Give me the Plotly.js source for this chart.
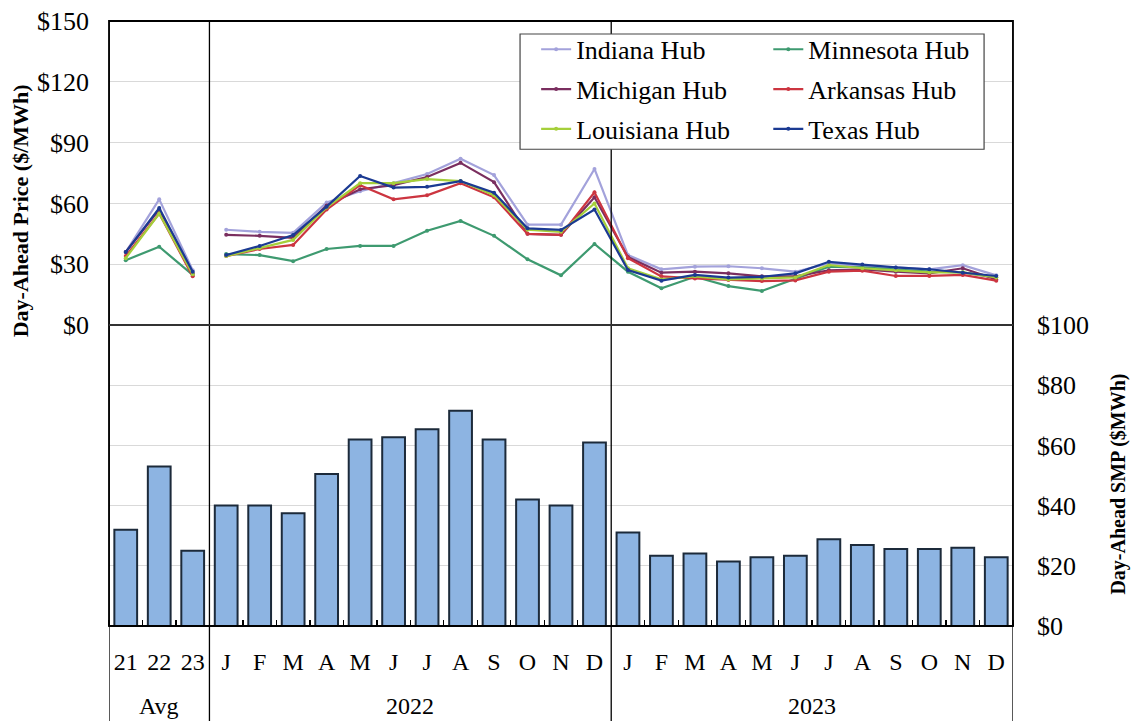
<!DOCTYPE html>
<html>
<head>
<meta charset="utf-8">
<script src="https://cdn.plot.ly/plotly-3.0.1.min.js"></script>
<style>html,body{margin:0;padding:0;background:#fff;}#chart{width:1133px;height:721px;}</style>
</head>
<body>
<div id="chart"></div>
<script>
// ---- data ----
const monthLabels = ['21','22','23','J','F','M','A','M','J','J','A','S','O','N','D','J','F','M','A','M','J','J','A','S','O','N','D'];
const groupLabels = ['Avg','2022','2023'];
const groupSizes = [3, 12, 12];

const smp = [32, 53, 25, 40, 40, 37.5, 50.5, 62, 62.7, 65.4, 71.5, 62, 42, 40, 61,
             31.1, 23.3, 24.1, 21.4, 22.8, 23.3, 28.8, 26.9, 25.6, 25.6, 26, 22.8];

const indiana   = [36, 62, 27,   47, 46, 45.5, 60.5, 66, 70, 74.5, 82, 74, 49.5, 49.5, 77,
                   34.5, 27.5, 28.8, 29, 28, 26.3, 30.4, 29, 28.4, 27.5, 29.5, 24.5];
const minnesota = [32, 38.6, 24.7, 35, 34.5, 31.5, 37.5, 39, 39, 46.5, 51.3, 44, 32.4, 24.5, 40,
                   26.3, 18.1, 23.8, 19.2, 16.8, 23, 28.8, 28.5, 27.5, 26.3, 26, 23.4];
const michigan  = [36, 57, 25.5, 44.5, 44, 43, 59, 67, 69, 73, 80, 70.5, 45, 44.5, 63,
                   33.5, 25.8, 26.3, 25.5, 24, 24, 27, 27.5, 26.3, 25.5, 28, 22.5];
const arkansas  = [34, 55, 24,   34, 37.5, 39.5, 57, 69, 62, 64, 70, 63, 45, 44.5, 65.5,
                   33, 24, 23, 22.2, 21.7, 22, 26.3, 26.8, 24.2, 24.2, 24.7, 21.9];
const louisiana = [33, 55, 25,   34, 38, 42, 58, 70, 70, 72, 71, 64, 47, 46, 60,
                   28, 22.5, 24, 22.5, 23, 23.5, 29.6, 28, 27, 26, 26, 23.5];
const texas     = [36, 57.7, 26.3, 34.5, 39, 44.4, 58.4, 73.5, 67.8, 68.2, 71, 65.3, 47.7, 46.9, 57,
                   27.1, 21.9, 24.7, 23.4, 23.8, 25.5, 31.2, 29.9, 28.4, 27.5, 25.8, 24.2];

const hubNames = ['Indiana Hub','Minnesota Hub','Michigan Hub','Arkansas Hub','Louisiana Hub','Texas Hub'];
const hubSeries = [indiana, minnesota, michigan, arkansas, louisiana, texas];

const leftTitle = 'Day-Ahead Price ($/MWh)';
const rightTitle = 'Day-Ahead SMP ($MWh)';

// ---- styles ----
const hubColors = ['#A3A2DB','#3E9A70','#7A2E5F','#CC3540','#A5CF3A','#1B3A92'];
const hubLegend = ['legend','legend2','legend','legend2','legend','legend2'];
const FONT = '"Liberation Serif", "Times New Roman", serif';

const idx = monthLabels.map((_, i) => i);
const nAvg = groupSizes[0];

const traces = [];
traces.push({
  type: 'bar', x: idx, y: smp, xaxis: 'x', yaxis: 'y2', width: 0.68,
  marker: {color: '#8DB4E2', line: {color: '#1C2A3A', width: 2}},
  showlegend: false, hoverinfo: 'y'
});
hubSeries.forEach((s, k) => {
  const common = {
    type: 'scatter', mode: 'lines+markers', xaxis: 'x', yaxis: 'y',
    line: {color: hubColors[k], width: 2.2}, marker: {color: hubColors[k], size: 4},
    legendgroup: hubNames[k], legend: hubLegend[k], name: hubNames[k]
  };
  traces.push(Object.assign({}, common, {x: idx.slice(0, nAvg), y: s.slice(0, nAvg), showlegend: false}));
  traces.push(Object.assign({}, common, {x: idx.slice(nAvg), y: s.slice(nAvg), showlegend: true}));
});

// group boundaries/centers
const bounds = [-0.5];
groupSizes.forEach(g => bounds.push(bounds[bounds.length - 1] + g));
const centers = groupSizes.map((g, i) => (bounds[i] + bounds[i + 1]) / 2);

const SPLIT = 0.4975;
const BOTTOM = -0.157;

const shapes = [];
bounds.forEach(b => shapes.push({type: 'line', xref: 'x', yref: 'paper', x0: b, x1: b, y0: BOTTOM, y1: 1,
  line: {color: '#000', width: 1.3}, layer: 'above'}));
shapes.push({type: 'rect', xref: 'paper', yref: 'paper', x0: 0, x1: 1, y0: 0, y1: 1,
  line: {color: '#000', width: 1.8}, layer: 'above'});
shapes.push({type: 'line', xref: 'paper', yref: 'paper', x0: 0, x1: 1, y0: SPLIT, y1: SPLIT,
  line: {color: '#333', width: 1.8}, layer: 'above'});
shapes.push({type: 'rect', xref: 'paper', yref: 'paper', x0: 0.4547, x1: 0.968, y0: 0.788, y1: 0.9785,
  fillcolor: '#fff', line: {color: '#444', width: 1.2}, layer: 'above'});

const annotations = groupLabels.map((g, i) => ({
  text: g, xref: 'x', yref: 'paper', x: centers[i], y: -0.132, showarrow: false,
  yanchor: 'middle', font: {family: FONT, size: 24, color: '#000'}
}));
annotations.push({
  text: leftTitle, xref: 'paper', yref: 'paper', x: -0.0985, y: 0.687, textangle: -90,
  xanchor: 'center', yanchor: 'middle', showarrow: false,
  font: {family: FONT, size: 22, weight: 'bold', color: '#000'}
});
annotations.push({
  text: rightTitle, xref: 'paper', yref: 'paper', x: 1.117, y: 0.235, textangle: -90,
  xanchor: 'center', yanchor: 'middle', showarrow: false,
  font: {family: FONT, size: 20, weight: 'bold', color: '#000'}
});

const legendCommon = {
  xanchor: 'left', yanchor: 'top', y: 0.992, bgcolor: 'rgba(0,0,0,0)', borderwidth: 0,
  font: {family: FONT, size: 26, color: '#000'}, traceorder: 'grouped', tracegroupgap: 3,
  orientation: 'v'
};

const layout = {
  width: 1133, height: 721,
  margin: {l: 109, r: 120, t: 21, b: 95, pad: 0},
  paper_bgcolor: '#fff', plot_bgcolor: '#fff',
  font: {family: FONT, color: '#000'},
  showlegend: true,
  legend: Object.assign({}, legendCommon, {x: 0.4725}),
  legend2: Object.assign({}, legendCommon, {x: 0.7293}),
  xaxis: {
    range: [-0.5, 26.5], anchor: 'y2', tickmode: 'array', tickvals: idx, ticktext: monthLabels,
    ticks: '', showgrid: false, zeroline: false, showline: false,
    tickfont: {family: FONT, size: 24, color: '#000'}, ticklabelstandoff: 19,
    minor: {tick0: 0.5, dtick: 1, ticks: 'inside', ticklen: 6, tickcolor: '#000', tickwidth: 1.3, showgrid: false}
  },
  yaxis: {
    domain: [SPLIT, 1], range: [0, 150], tick0: 0, dtick: 30, tickprefix: '$', anchor: 'x',
    showgrid: true, gridcolor: '#d9d9d9', gridwidth: 1, zeroline: false, showline: false, ticks: '',
    tickfont: {family: FONT, size: 26, color: '#000'}, ticklabelstandoff: 19
  },
  yaxis2: {
    domain: [0, SPLIT], range: [0, 100], tick0: 0, dtick: 20, tickprefix: '$', anchor: 'x', side: 'right',
    showgrid: true, gridcolor: '#d9d9d9', gridwidth: 1, zeroline: false, showline: false, ticks: '',
    tickfont: {family: FONT, size: 26, color: '#000'}, ticklabelstandoff: 23
  },
  shapes: shapes,
  annotations: annotations
};

Plotly.newPlot('chart', traces, layout, {displayModeBar: false, staticPlot: true});
</script>
</body>
</html>
